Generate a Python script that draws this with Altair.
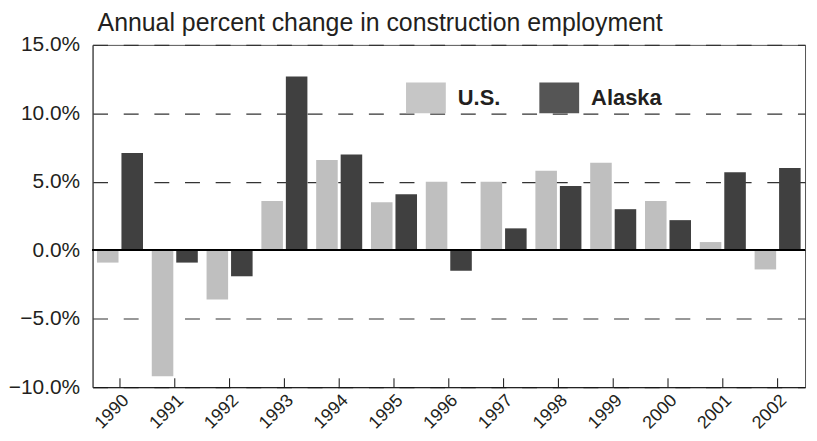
import altair as alt
import pandas as pd

years = ["1990", "1991", "1992", "1993", "1994", "1995", "1996",
         "1997", "1998", "1999", "2000", "2001", "2002"]
us = [-0.9, -9.2, -3.6, 3.6, 6.6, 3.5, 5.0, 5.0, 5.8, 6.4, 3.6, 0.6, -1.4]
alaska = [7.1, -0.9, -1.9, 12.7, 7.0, 4.1, -1.5, 1.6, 4.7, 3.0, 2.2, 5.7, 6.0]
series = ["U.S.", "Alaska"]
colors = ["#bfbfbf", "#404040"]
y_ticks = [-10, -5, 0, 5, 10, 15]

rows = []
for i, yr in enumerate(years):
    rows.append({"year": yr, "series": series[0], "value": us[i]})
    rows.append({"year": yr, "series": series[1], "value": alaska[i]})
df = pd.DataFrame(rows)
ticks_df = pd.DataFrame({"year": years})

FONT = "Liberation Sans"
TXT = "#231f20"

x_enc = alt.X("year:N", sort=years,
              scale=alt.Scale(paddingInner=0.16, paddingOuter=0.08),
              axis=alt.Axis(title=None, labelAngle=-45, ticks=False, grid=False,
                            labelFontSize=18, labelPadding=4, labelColor=TXT,
                            domainColor="#111", domainWidth=1))

bars = alt.Chart(df).mark_bar().encode(
    x=x_enc,
    xOffset=alt.XOffset("series:N", sort=series,
                        scale=alt.Scale(paddingInner=0.12, paddingOuter=0)),
    y=alt.Y("value:Q",
            scale=alt.Scale(domain=[-10, 15], nice=False, zero=False),
            axis=alt.Axis(title=None, values=y_ticks,
                          labelExpr="format(datum.value, '.1f') + '%'",
                          ticks=False, grid=True, gridDash=[15, 15.8],
                          gridColor="#333", gridWidth=1.2,
                          domainColor="#444", labelFontSize=21,
                          labelPadding=13, labelColor=TXT)),
    color=alt.Color("series:N", sort=series,
                    scale=alt.Scale(domain=series, range=colors),
                    legend=alt.Legend(orient="none", legendX=315, legendY=33,
                                      direction="horizontal", title=None,
                                      symbolType="M-1,-0.775H1V0.775H-1Z",
                                      symbolSize=1600, symbolStrokeWidth=0,
                                      symbolOpacity=0.89,
                                      labelFontSize=22, labelFontWeight="bold",
                                      labelColor=TXT, labelOffset=12,
                                      columnPadding=39, padding=0)),
)

zero = alt.Chart(ticks_df).mark_rule(color="#000", strokeWidth=1.5).encode(
    y=alt.datum(0)
)

xticks = alt.Chart(ticks_df).mark_rule(color="#111", strokeWidth=1).encode(
    x=alt.X("year:N", sort=years),
    y=alt.datum(-10),
    y2=alt.datum(-9.35),
)

chart = alt.layer(bars, zero, xticks).properties(
    width=716, height=344,
    padding={"left": 0, "top": 2, "right": 3, "bottom": 5},
    title=alt.TitleParams("Annual percent change in construction employment",
                          anchor="start", frame="group", dx=5, offset=-2,
                          fontSize=25, fontWeight="normal", color=TXT, font=FONT),
).configure(font=FONT).configure_view(stroke="#555", strokeWidth=1)

chart.save("out.html", embed_options={"renderer": "svg", "actions": False})
